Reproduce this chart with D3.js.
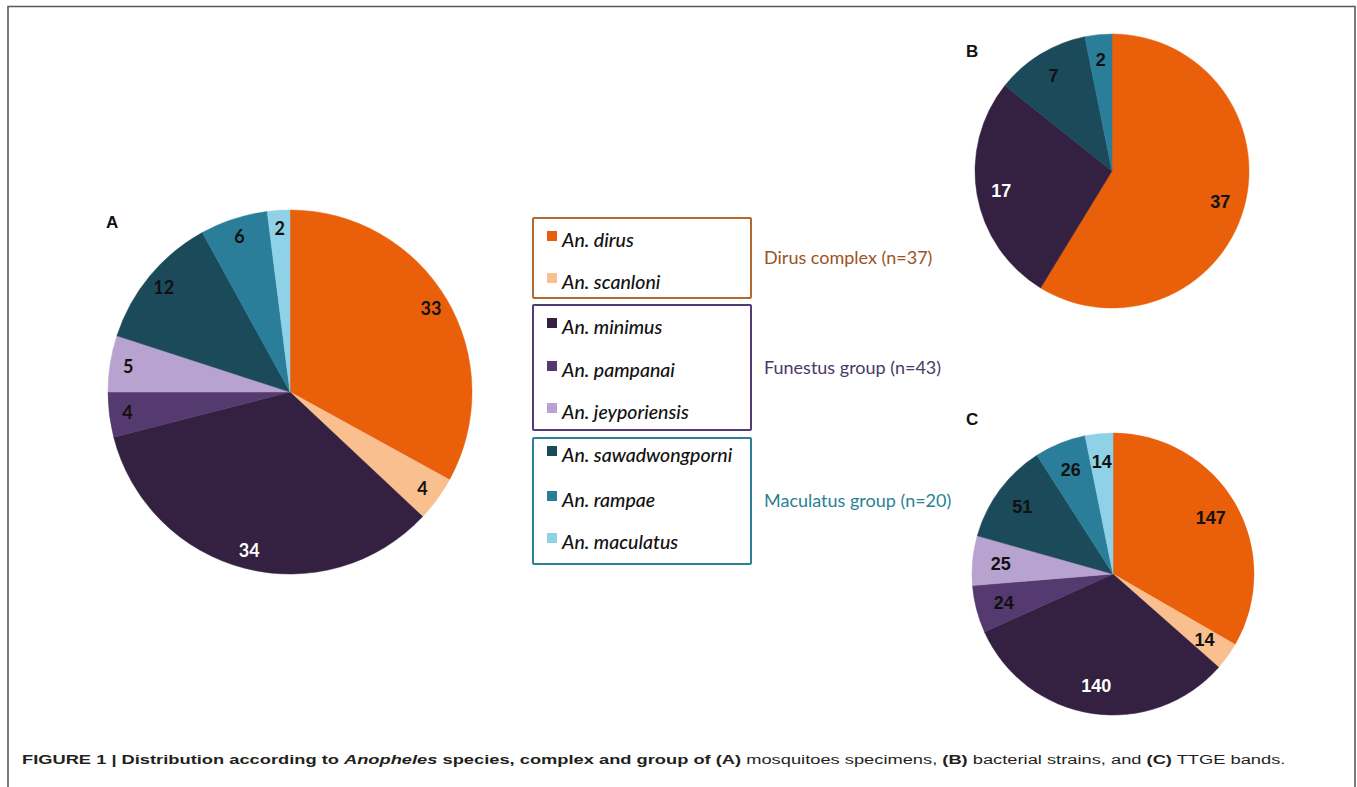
<!DOCTYPE html>
<html><head><meta charset="utf-8">
<script src="https://cdn.jsdelivr.net/npm/d3@7"></script>
<style>
html,body{margin:0;padding:0;background:#fff;}
svg{display:block;}
</style></head>
<body>
<svg id="chart" width="1357" height="787"></svg>
<script>
// ---- data ----
const species = ["An. dirus","An. scanloni","An. minimus","An. pampanai","An. jeyporiensis","An. sawadwongporni","An. rampae","An. maculatus"];
const speciesColors = ["#E95F0A","#F9BF8E","#342040","#553A70","#B8A2CF","#1B4A5A","#2B7E9A","#8FD2E7"];
const valuesA = [33,4,34,4,5,12,6,2];           // mosquitoes specimens
const valuesB = [37,0,17,0,0,7,2,0];            // bacterial strains
const valuesC = [147,14,140,24,25,51,26,14];    // TTGE bands
const groups = ["Dirus complex (n=37)","Funestus group (n=43)","Maculatus group (n=20)"];
const groupColors = ["#B5682E","#533B76","#2A8197"];
const groupTextColors = ["#9A5226","#4A3868","#2A8197"];
const whiteLabels = ["An. minimus"];

const svg = d3.select("#chart");

// frame
svg.append("path").attr("d","M8,787 V6.5 H1355 V787")
  .attr("fill","none").attr("stroke","#5a5a5a").attr("stroke-width",1.6);

function drawPie(values, cx, cy, r, labelFrac, font, size){
  const data = species.map((s,i)=>({name:s, value:values[i], color:speciesColors[i]})).filter(d=>d.value>0);
  const pie = d3.pie().value(d=>d.value).sort(null);
  const arc = d3.arc().innerRadius(0).outerRadius(r);
  const larc = d3.arc().innerRadius(r*labelFrac).outerRadius(r*labelFrac);
  const g = svg.append("g").attr("transform",`translate(${cx},${cy})`);
  const arcs = pie(data);
  g.selectAll("path").data(arcs).join("path")
    .attr("d",arc).attr("fill",d=>d.data.color)
    .attr("stroke",d=>d.data.color).attr("stroke-width",0.5);
  g.selectAll("text").data(arcs).join("text")
    .attr("transform",d=>`translate(${larc.centroid(d)})`)
    .attr("text-anchor","middle").attr("dy","0.36em")
    .attr("font-family",font).attr("font-weight","bold").attr("font-size",size)
    .attr("fill",d=>whiteLabels.includes(d.data.name)?"#ffffff":"#111111")
    .text(d=>d.data.value);
}

drawPie(valuesA, 290, 392, 182, 0.9, "Lato, 'Open Sans', sans-serif", 18);
drawPie(valuesB, 1112, 171, 137, 0.82, "'Liberation Sans', Arial, sans-serif", 18);
drawPie(valuesC, 1113, 574, 141, 0.8, "'Liberation Sans', Arial, sans-serif", 18);

// panel letters
const letters = [["A",106,228],["B",966,57],["C",966,425]];
svg.selectAll("text.panel").data(letters).join("text").attr("class","panel")
  .attr("x",d=>d[1]).attr("y",d=>d[2])
  .attr("font-family","'Liberation Sans', Arial, sans-serif").attr("font-weight","bold")
  .attr("font-size",17).attr("fill","#111").text(d=>d[0]);

// legend
const boxes = [[218,298],[305,430],[438,564]];
const itemY = [240,282,327,370,412,455,500,542];
const lg = svg.append("g");
boxes.forEach((b,i)=>{
  lg.append("rect").attr("x",533).attr("y",b[0]).attr("width",218).attr("height",b[1]-b[0])
    .attr("fill","none").attr("stroke",groupColors[i]).attr("stroke-width",2).attr("rx",1);
  lg.append("text").attr("x",764).attr("y",(b[0]+b[1])/2).attr("dy","0.35em")
    .attr("font-family","Lato, 'Open Sans', sans-serif").attr("font-size",18)
    .attr("fill",groupTextColors[i]).text(groups[i]);
});
species.forEach((s,i)=>{
  lg.append("rect").attr("x",547).attr("y",itemY[i]-9).attr("width",10).attr("height",10)
    .attr("fill",speciesColors[i]);
  lg.append("text").attr("x",562).attr("y",itemY[i]).attr("dy","0.35em")
    .attr("font-family","Lato, 'Open Sans', sans-serif").attr("font-style","italic")
    .attr("font-weight",500)
    .attr("font-size",19.5).attr("fill","#111").text(s);
});

// caption (horizontally stretched to span the same width as the reference)
const capG = svg.append("g");
const cap = capG.append("text").attr("x",0).attr("y",0)
  .attr("font-family","'Liberation Sans', Arial, sans-serif").attr("font-size",12.5).attr("fill","#231f20");
const parts = [
  ["FIGURE 1 | Distribution according to ","bold","normal"],
  ["Anopheles","bold","italic"],
  [" species, complex and group of (A)","bold","normal"],
  [" mosquitoes specimens, ","normal","normal"],
  ["(B)","bold","normal"],
  [" bacterial strains, and ","normal","normal"],
  ["(C)","bold","normal"],
  [" TTGE bands.","normal","normal"]
];
parts.forEach(p=>cap.append("tspan").attr("font-weight",p[1]).attr("font-style",p[2]).text(p[0]));
const capW = cap.node().getComputedTextLength();
const k = 1265 / capW;
capG.attr("transform",`translate(22,763.5) scale(${k},1.05)`);
</script>
</body></html>
